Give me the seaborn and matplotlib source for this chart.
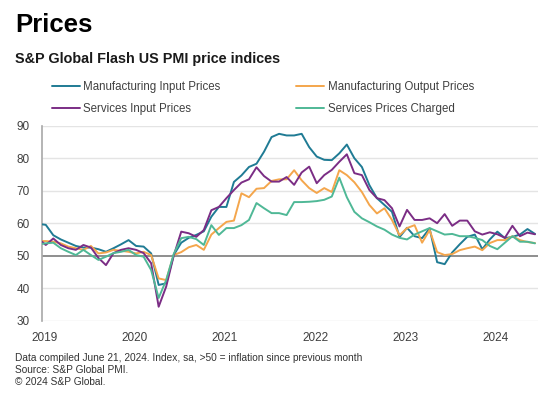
import numpy as np
import pandas as pd
import seaborn as sns
import matplotlib.pyplot as plt


# monthly readings, Dec 2018 .. Jun 2024 (Dec 2018 only used so the lines reach the axis)
months = np.arange(-1, 66)

mfg_input = [59.8, 59.5, 56.3, 55, 54, 53, 52.5, 52.5, 52, 51.2, 52.3, 53.5, 54.8,
             53, 52.8, 50.7, 41, 41.5, 50.2, 54, 55.5, 56.4, 57.5, 62, 65,
             65, 72.7, 74.7, 77.3, 78.3, 82, 86.5, 87.5, 87, 87, 87.5, 83.4,
             80.5, 79.5, 79.4, 81.5, 84.2, 80, 77.3, 71.7, 67.7, 65.6, 63.5, 55.7,
             58.6, 56, 55.4, 58.4, 48, 47.4, 51, 53.5, 55.8, 56.5, 52, 55,
             57.4, 55.4, 55.8, 56.5, 58.2, 56.7]

mfg_output = [54.5, 54.5, 54.3, 53.8, 52.8, 52.3, 51.8, 53, 50.7, 51, 51.8, 51.5, 51.2,
              50.7, 51.2, 50.2, 43, 42.5, 50.2, 51.1, 52.6, 53.3, 51.8, 56.5, 58.5,
              60.4, 60.8, 69.2, 68, 70.6, 70.8, 73, 73.5, 73.5, 76.3, 73.2, 70.8,
              69.3, 70.8, 69.6, 76.3, 74.8, 72.6, 69.6, 65.6, 63, 64.6, 61, 56.3,
              58.5, 59.4, 54, 57.9, 51.1, 50.2, 50.5, 51.7, 52.3, 52.8, 51.7, 53.9,
              54.8, 54.8, 56, 54.8, 54.2, 53.9]

svc_input = [55.3, 53.3, 55.3, 53.3, 52.3, 51.8, 53.3, 52.5, 49.3, 47.1, 50.8, 51.8, 52.3,
             51.8, 50.8, 47.7, 34.3, 40.5, 50, 57.4, 56.9, 55.8, 57.9, 64, 65,
             67.7, 70.2, 72.5, 73.5, 77.2, 74.5, 72.8, 72.8, 74.2, 71.8, 75.6, 77.4,
             72.3, 74.8, 76.4, 78.9, 81.2, 75.4, 74.8, 70.2, 67.7, 67.1, 64.6, 59,
             64.1, 61, 61, 61.5, 60, 62.8, 59.2, 60.8, 60.8, 57.5, 56.5, 57.2,
             56.6, 55.5, 59.2, 56, 57.1, 56.6]

svc_charged = [53.5, 53.8, 54, 52.3, 51.2, 50.2, 51.8, 50.2, 48.7, 49.7, 50.8, 51.2, 51.8,
               50.2, 49.7, 45.6, 37, 42.5, 50.5, 55.4, 55.8, 55.1, 53.3, 59.4, 56.4,
               58.5, 58.5, 59.4, 61, 66.2, 64.6, 63.1, 63.1, 62.5, 66.5, 66.5, 66.6,
               66.8, 67.2, 68.2, 74, 68, 63.5, 61.5, 60.3, 59, 58, 56.5, 55.5,
               55, 56.5, 57.5, 58.5, 57.5, 56.5, 56.7, 56, 56, 55.5, 54.8, 53,
               52, 54, 56, 54.3, 54.3, 53.8]

series_names = ['Manufacturing Input Prices', 'Manufacturing Output Prices',
                'Services Input Prices', 'Services Prices Charged']
colors = ['#1f7b94', '#f4a64c', '#7b2d85', '#4fb896']
years = ['2019', '2020', '2021', '2022', '2023', '2024']

df = pd.DataFrame({'month': months + 0.5,
                   series_names[0]: mfg_input,
                   series_names[1]: mfg_output,
                   series_names[2]: svc_input,
                   series_names[3]: svc_charged})
df = df.melt(id_vars='month', var_name='series', value_name='value')

sns.set_style('white')
plt.rcParams['font.family'] = ['Liberation Sans', 'DejaVu Sans']

fig = plt.figure(figsize=(5.54, 3.98), dpi=100)
ax = fig.add_axes([42 / 554, 1 - 320.7 / 398, 496 / 554, 195 / 398])

sns.lineplot(data=df, x='month', y='value', hue='series', hue_order=series_names,
             palette=colors, linewidth=1.4, ax=ax, legend=False, zorder=3)

ax.set_xlim(0, 65.9)
ax.set_ylim(30, 90)
ax.set_yticks(range(30, 91, 10))
ax.set_xticks([12 * i + 0.3 for i in range(len(years))])
ax.set_xticklabels(years)
ax.set_xlabel('')
ax.set_ylabel('')
ax.tick_params(axis='both', length=0, labelsize=8.5, labelcolor='#404040')
ax.tick_params(axis='y', pad=9)
ax.tick_params(axis='x', pad=8)

for v in range(30, 91, 10):
    if v == 50:
        ax.axhline(v, color='#8e8e8e', lw=1.4, zorder=2)
    else:
        ax.axhline(v, color='#e4e4e4', lw=1.0, zorder=1)

for s in ['top', 'right', 'bottom']:
    ax.spines[s].set_visible(False)
ax.spines['left'].set_color('#a8a8a8')
ax.spines['left'].set_linewidth(1.2)

# legend, two columns
handles = [plt.Line2D([], [], color=c, lw=1.4) for c in colors]
order = [0, 2, 1, 3]
fig.legend([handles[i] for i in order], [series_names[i] for i in order],
           loc='upper left', bbox_to_anchor=(52 / 554, 1 - 81 / 398), ncol=2,
           frameon=False, fontsize=8.3, handlelength=2.4, handletextpad=0.3,
           columnspacing=6.6, labelspacing=0.85, borderpad=0, borderaxespad=0,
           labelcolor='#404040')

fig.text(15 / 554, 1 - 32 / 398, 'Prices', fontsize=18.5, fontweight='bold',
         color='black', va='baseline')
fig.text(15 / 554, 1 - 63 / 398, 'S&P Global Flash US PMI price indices', fontsize=10.4,
         fontweight='bold', color='#1a1a1a', va='baseline')

notes = ['Data compiled June 21, 2024. Index, sa, >50 = inflation since previous month',
         'Source: S&P Global PMI.',
         '\u00a9 2024 S&P Global.']
for i, line in enumerate(notes):
    fig.text(15 / 554, 1 - (361 + 12 * i) / 398, line, fontsize=7.3, color='#333333',
             va='baseline')

fig.savefig('out.png', dpi=100)
